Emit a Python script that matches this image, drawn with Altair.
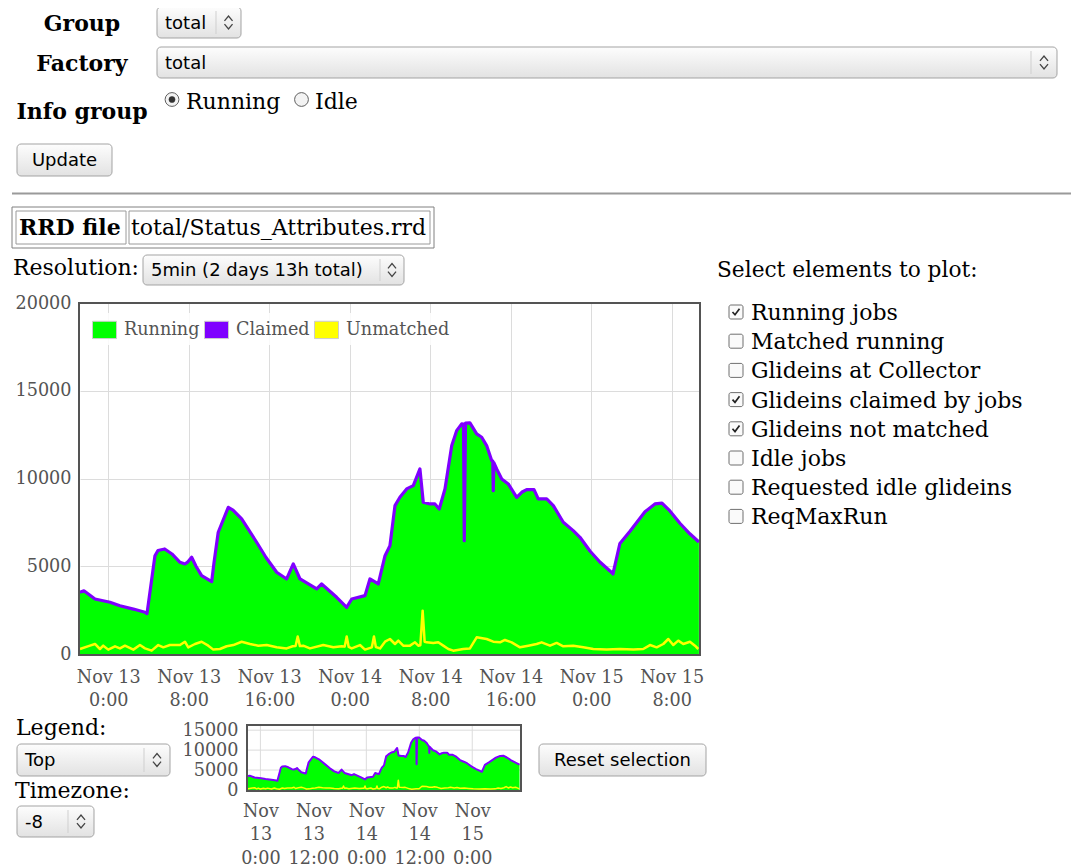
import altair as alt
import pandas as pd
from datetime import datetime, timedelta

# ------------------------------------------------------------------ data
# (hours after Nov 13 0:00 in the displayed timezone, value)
claimed = [
    (-2.81, 3520), (-2.42, 3600), (-1.32, 3135), (0.17, 2950), (1.16, 2750),
    (2.50, 2560), (3.65, 2380), (3.85, 2300), (4.64, 5600), (4.94, 5900),
    (5.61, 5985), (6.33, 5700), (7.13, 5227), (7.62, 5130), (7.92, 5250),
    (8.29, 5510), (8.72, 5000), (9.28, 4463), (10.28, 4121), (10.51, 5200),
    (10.93, 6936), (11.93, 8360), (12.40, 8200), (13.26, 7695), (14.75, 6367),
    (15.68, 5500), (16.74, 4657), (17.73, 4275), (18.39, 5130), (19.06, 4275),
    (20.72, 3705), (21.21, 3990), (22.70, 3232), (23.70, 2662), (24.20, 3135),
    (25.52, 3325), (26.01, 4275), (26.84, 3990), (27.51, 5600), (28.00, 6175),
    (28.50, 8455), (28.99, 8930), (29.66, 9405), (30.32, 9595), (30.98, 10545),
    (31.31, 8645), (31.98, 8550), (32.47, 8550), (32.90, 8265), (33.47, 9405),
    (34.14, 11870), (34.63, 12728), (35.13, 13110), (35.31, 13100), (35.39, 6460),
    (35.51, 13150), (35.95, 13167), (36.62, 12540), (37.12, 12350), (37.61, 11875),
    (38.11, 11020), (38.22, 11000), (38.27, 9310), (38.33, 10900), (38.61, 10545),
    (39.11, 9975), (39.76, 9690), (40.60, 8930), (41.10, 9215), (41.59, 9367),
    (42.32, 9367), (42.74, 8835), (43.58, 8835), (44.24, 8455), (45.23, 7505),
    (46.22, 7030), (46.89, 6650), (47.88, 5870), (48.87, 5244), (49.87, 4731),
    (50.17, 4560), (50.86, 6300), (51.86, 7000), (53.35, 8100), (54.34, 8550),
    (55.04, 8600), (55.83, 8150), (56.82, 7450), (57.81, 6850), (58.71, 6380),
]
# samples where only the Claimed line dips (Running stays up)
claimed_dips = [35.39, 38.27]

unmatched = [
    (-2.81, 285), (-1.82, 475), (-1.32, 570), (-0.83, 285), (-0.50, 475), (0.00, 250),
    (0.67, 440), (1.16, 320), (1.66, 475), (2.49, 250), (3.15, 510), (3.65, 320),
    (4.31, 190), (4.97, 510), (5.47, 380), (6.13, 510), (7.13, 510), (7.62, 700),
    (7.95, 380), (8.62, 570), (9.28, 700), (9.94, 475), (10.44, 250), (11.10, 285),
    (11.77, 440), (12.43, 510), (13.26, 700), (14.09, 570), (14.91, 475), (15.75, 510),
    (16.74, 380), (17.73, 320), (18.33, 440), (18.62, 450), (18.83, 1000), (19.05, 450),
    (19.38, 475), (20.05, 320), (21.37, 510), (22.37, 380), (23.20, 440), (23.50, 420),
    (23.70, 1000), (23.90, 400), (24.20, 320), (25.02, 510), (25.52, 250), (26.20, 380),
    (26.41, 1000), (26.60, 400), (27.01, 320), (27.51, 703), (28.00, 855), (28.50, 570),
    (28.83, 760), (29.32, 475), (29.99, 475), (30.49, 665), (30.82, 475), (31.02, 500),
    (31.25, 2470), (31.45, 700), (31.65, 665), (32.31, 630), (32.80, 665), (33.30, 475),
    (33.80, 285), (34.29, 190), (35.29, 285), (35.95, 320), (36.62, 950), (37.61, 855),
    (38.27, 700), (38.94, 665), (39.43, 800), (40.10, 665), (40.93, 380), (41.75, 475),
    (42.58, 570), (43.08, 665), (43.91, 475), (44.57, 630), (45.23, 440), (46.22, 475),
    (47.22, 380), (48.21, 285), (49.54, 250), (50.86, 285), (52.19, 250), (53.18, 285),
    (53.85, 510), (54.51, 380), (55.17, 570), (55.67, 855), (56.16, 510), (56.66, 760),
    (57.16, 570), (57.82, 700), (58.32, 475), (58.65, 285),
]

series_names = ["Running", "Claimed", "Unmatched"]
series_colors = ["#00ff00", "#7f00ff", "#ffff00"]

main_tick_hours = [0, 8, 16, 24, 32, 40, 48, 56]
mini_tick_hours = [0, 12, 24, 36, 48]
main_y_ticks = [0, 5000, 10000, 15000, 20000]
mini_y_ticks = [0, 5000, 10000, 15000]
domain_hours = [-2.81, 58.82]

checkbox_items = ["Running jobs", "Matched running", "Glideins at Collector",
                  "Glideins claimed by jobs", "Glideins not matched", "Idle jobs",
                  "Requested idle glideins", "ReqMaxRun"]
checkbox_checked = [True, False, False, True, True, False, False, False]

# ------------------------------------------------------------------ helpers
BASE = datetime(2013, 11, 13)
EPOCH = datetime(1970, 1, 1)


def iso(h):
    return (BASE + timedelta(hours=h)).strftime("%Y-%m-%dT%H:%M:%SZ")


def ms(h):
    return int(((BASE + timedelta(hours=h)) - EPOCH).total_seconds() * 1000)


df_run = pd.DataFrame({"t": [iso(h) for h, v in claimed if h not in claimed_dips],
                       "v": [v for h, v in claimed if h not in claimed_dips],
                       "s": "Running"})
df_cl = pd.DataFrame({"t": [iso(h) for h, v in claimed], "v": [v for h, v in claimed]})
df_un = pd.DataFrame({"t": [iso(h) for h, v in unmatched], "v": [v for h, v in unmatched]})
df_mini_vgrid = pd.DataFrame({"t": [iso(h) for h in mini_tick_hours]})
df_mini_hgrid = pd.DataFrame({"v": mini_y_ticks})

SERIF = "DejaVu Serif"
SANS = "DejaVu Sans"
AXC = "#545454"
GRID = "#dcdcdc"
FRAME = "#545454"

OX, OY = 80, 303          # page position of the main plot's top-left corner
W, H = 620, 351
MX0, MX1, MY0, MY1 = 248, 520, 725, 790   # overview plot (page coordinates)

ONE = alt.InlineData(values=[{"k": 0}])

GRAD = alt.LinearGradient(
    gradient="linear", x1=0, x2=0, y1=0, y2=1,
    stops=[alt.GradientStop(color="#fdfdfd", offset=0),
           alt.GradientStop(color="#e2e2e2", offset=1)])

CHEV = "M-0.5,-0.2L0,-0.8L0.5,-0.2M-0.5,0.2L0,0.8L0.5,0.2"
CHECK = "M-0.7,0L-0.2,0.55L0.7,-0.65"
SWATCH = "M-1,-0.72H1V0.72H-1Z"


def X(p):
    return alt.value(p - OX)


def Y(p):
    return alt.value(p - OY)


def T(s, x, y, size=22, font=SERIF, weight="normal", align="left", color="#000000"):
    return alt.Chart(ONE).mark_text(
        text=s, font=font, fontSize=size, fontWeight=weight, align=align,
        baseline="alphabetic", color=color).encode(x=X(x), y=Y(y))


def R(x1, y1, x2, y2, fill="#ffffff", stroke="#a6a6a6", sw=1, r=0, fo=1):
    return alt.Chart(ONE).mark_rect(
        fill=fill, fillOpacity=fo, stroke=stroke, strokeWidth=sw, cornerRadius=r
    ).encode(x=X(x1), x2=X(x2), y=Y(y1), y2=Y(y2))


def L(x1, y1, x2, y2, color="#999999", sw=1):
    return alt.Chart(ONE).mark_rule(color=color, strokeWidth=sw).encode(
        x=X(x1), x2=X(x2), y=Y(y1), y2=Y(y2))


def P(x, y, shape, size, stroke="#333333", sw=1.3, fill=None):
    kw = dict(shape=shape, size=size, stroke=stroke, strokeWidth=sw, opacity=1)
    if fill is None:
        kw["filled"] = False
    else:
        kw["filled"] = True
        kw["fill"] = fill
    return alt.Chart(ONE).mark_point(**kw).encode(x=X(x), y=Y(y))


def select(x1, y1, x2, y2, label, divx):
    cy = (y1 + y2) / 2
    return [R(x1, y1, x2, y2, fill=GRAD, stroke="#a3a3a3", r=4),
            T(label, x1 + 8, cy + 6, size=18, font=SANS),
            L(divx, y1 + 4, divx, y2 - 4, color="#cfcfcf"),
            P((divx + x2) / 2, cy, CHEV, 260, stroke="#444444", sw=1.3)]


def button(x1, y1, x2, y2, label):
    return [R(x1, y1, x2, y2, fill=GRAD, stroke="#a3a3a3", r=4),
            T(label, (x1 + x2) / 2, y2 - 10, size=18, font=SANS, align="center")]


# ------------------------------------------------------------------ form decorations
deco = []
deco.append(T("Group", 82, 31, weight="bold", align="center"))
deco += select(157, 7, 241, 38, "total", 216)
deco.append(T("Factory", 82, 71, weight="bold", align="center"))
deco += select(157, 47, 1057, 78, "total", 1031)
deco.append(T("Info group", 82, 119, weight="bold", align="center"))
deco.append(P(172, 99.5, "circle", 190, stroke="#5f5f5f", sw=1, fill="#f3f3f3"))
deco.append(P(172, 99.5, "circle", 38, stroke="#333333", sw=0.5, fill="#333333"))
deco.append(T("Running", 186, 109))
deco.append(P(301.5, 99.5, "circle", 190, stroke="#5f5f5f", sw=1, fill="#f3f3f3"))
deco.append(T("Idle", 315, 109))
deco += button(17, 144, 112, 176, "Update")
deco.append(L(12, 193.5, 1079, 193.5, color="#9a9a9a", sw=2))

deco.append(R(12, 207, 434, 248, fill="#ffffff", stroke="#808080", sw=1))
deco.append(R(16, 211, 126, 244, fill="#ffffff", stroke="#9a9a9a", sw=1))
deco.append(R(129, 211, 430, 244, fill="#ffffff", stroke="#9a9a9a", sw=1))
deco.append(T("RRD file", 19, 235, weight="bold"))
deco.append(T("total/Status_Attributes.rrd", 131, 235))

deco.append(T("Resolution:", 13, 275))
deco += select(143, 255, 404, 285, "5min (2 days 13h total)", 380)

deco.append(T("Select elements to plot:", 717, 277, size=21.7))
for i, (lab_, chk) in enumerate(zip(checkbox_items, checkbox_checked)):
    b = 320 + 29.2 * i
    deco.append(R(729, b - 15, 743, b - 1, fill="#fafafa", stroke="#6f6f6f", r=2))
    if chk:
        deco.append(P(736, b - 8, CHECK, 100, stroke="#222222", sw=1.7))
    deco.append(T(lab_, 751, b))

deco.append(T("Legend:", 16, 735))
deco += select(17, 744, 170, 776, "Top", 144)
deco.append(T("Timezone:", 15, 798))
deco += select(17, 806, 94, 837, "-8", 68)
deco += button(539, 744, 706, 776, "Reset selection")

# ------------------------------------------------------------------ main chart
lab = dict(labelFont=SERIF, labelFontSize=17.6, labelColor=AXC, ticks=False,
           domain=False, title=None, labelFlush=False, labelOverlap=False)

mx_main = alt.Scale(type="utc", domain=[ms(domain_hours[0]), ms(domain_hours[1])], nice=False)
my_main = alt.Scale(domain=[0, 20000], nice=False)

xax_main = alt.Axis(orient="bottom", values=[ms(h) for h in main_tick_hours],
                    labelExpr="[utcFormat(datum.value, '%b %d'), utcFormat(datum.value, '%-H:%M')]",
                    grid=True, gridColor=GRID, labelPadding=14, labelLineHeight=23,
                    labelAngle=0, **lab)
yax_main = alt.Axis(orient="left", values=main_y_ticks, format="d", grid=True,
                    gridColor=GRID, labelPadding=9, **lab)

legend = alt.Legend(orient="none", legendX=8, legendY=10, direction="horizontal",
                    title=None, symbolType=SWATCH, symbolSize=576,
                    symbolStrokeColor="#cccccc", symbolStrokeWidth=1,
                    labelFont=SERIF, labelFontSize=17.6, labelColor=AXC,
                    labelOffset=7, columnPadding=2, padding=4,
                    fillColor="rgba(255,255,255,0.85)")

area_main = alt.Chart(df_run).mark_area().encode(
    x=alt.X("t:T", scale=mx_main, axis=xax_main),
    y=alt.Y("v:Q", scale=my_main, axis=yax_main, stack=None),
    fill=alt.Fill("s:N", scale=alt.Scale(domain=series_names, range=series_colors),
                  legend=legend))
claimed_main = alt.Chart(df_cl).mark_line(
    color=series_colors[1], strokeWidth=3.2, strokeJoin="round").encode(
    x=alt.X("t:T", scale=mx_main, axis=None),
    y=alt.Y("v:Q", scale=my_main, axis=None))
unmatched_main = alt.Chart(df_un).mark_line(
    color=series_colors[2], strokeWidth=2.5, strokeJoin="round").encode(
    x=alt.X("t:T", scale=mx_main, axis=None),
    y=alt.Y("v:Q", scale=my_main, axis=None))

# ------------------------------------------------------------------ overview chart
mx_mini = alt.Scale(type="utc", domain=[ms(domain_hours[0]), ms(domain_hours[1])],
                    nice=False, range=[MX0 - OX, MX1 - OX])
my_mini = alt.Scale(domain=[0, 16300], nice=False, range=[MY1 - OY, MY0 - OY])

xax_mini = alt.Axis(orient="bottom", offset=(MY1 - OY) - H,
                    values=[ms(h) for h in mini_tick_hours],
                    labelExpr="[utcFormat(datum.value, '%b'), utcFormat(datum.value, '%d'), utcFormat(datum.value, '%-H:%M')]",
                    grid=False, labelPadding=12, labelLineHeight=23.6, labelAngle=0, **lab)
yax_mini = alt.Axis(orient="left", offset=-(MX0 - OX), values=mini_y_ticks, format="d",
                    grid=False, labelPadding=10, **lab)

mini_vgrid = alt.Chart(df_mini_vgrid).mark_rule(color=GRID, strokeWidth=1).encode(
    x=alt.X("t:T", scale=mx_mini, axis=xax_mini), y=Y(MY0), y2=Y(MY1))
mini_hgrid = alt.Chart(df_mini_hgrid).mark_rule(color=GRID, strokeWidth=1).encode(
    y=alt.Y("v:Q", scale=my_mini, axis=yax_mini), x=X(MX0), x2=X(MX1))
mini_area = alt.Chart(df_run).mark_area(color=series_colors[0]).encode(
    x=alt.X("t:T", scale=mx_mini, axis=None),
    y=alt.Y("v:Q", scale=my_mini, axis=None, stack=None))
mini_claimed = alt.Chart(df_cl).mark_line(
    color=series_colors[1], strokeWidth=2, strokeJoin="round").encode(
    x=alt.X("t:T", scale=mx_mini, axis=None),
    y=alt.Y("v:Q", scale=my_mini, axis=None))
mini_unmatched = alt.Chart(df_un).mark_line(
    color=series_colors[2], strokeWidth=1.5, strokeJoin="round").encode(
    x=alt.X("t:T", scale=mx_mini, axis=None),
    y=alt.Y("v:Q", scale=my_mini, axis=None))
mini_frame = R(MX0 - 1, MY0, MX1 + 1, MY1 + 1, fill="#ffffff", fo=0, stroke=FRAME, sw=2)

main_frame = R(OX - 1, OY, OX + W, OY + H + 1, fill="#ffffff", fo=0, stroke=FRAME, sw=2)

chart = alt.layer(
    *deco, area_main, claimed_main, unmatched_main, main_frame,
    mini_vgrid, mini_hgrid, mini_area, mini_claimed, mini_unmatched, mini_frame
).resolve_scale(
    x="independent", y="independent"
).properties(
    width=W, height=H,
    autosize=alt.AutoSizeParams(type="none"),
    padding={"left": OX - 8, "top": OY - 8, "right": 1063 - (OX - 8) - W,
             "bottom": 859 - (OY - 8) - H},
    background="#ffffff",
).configure_view(strokeWidth=0)

chart.save("out.html", embed_options={"renderer": "svg", "actions": False})
